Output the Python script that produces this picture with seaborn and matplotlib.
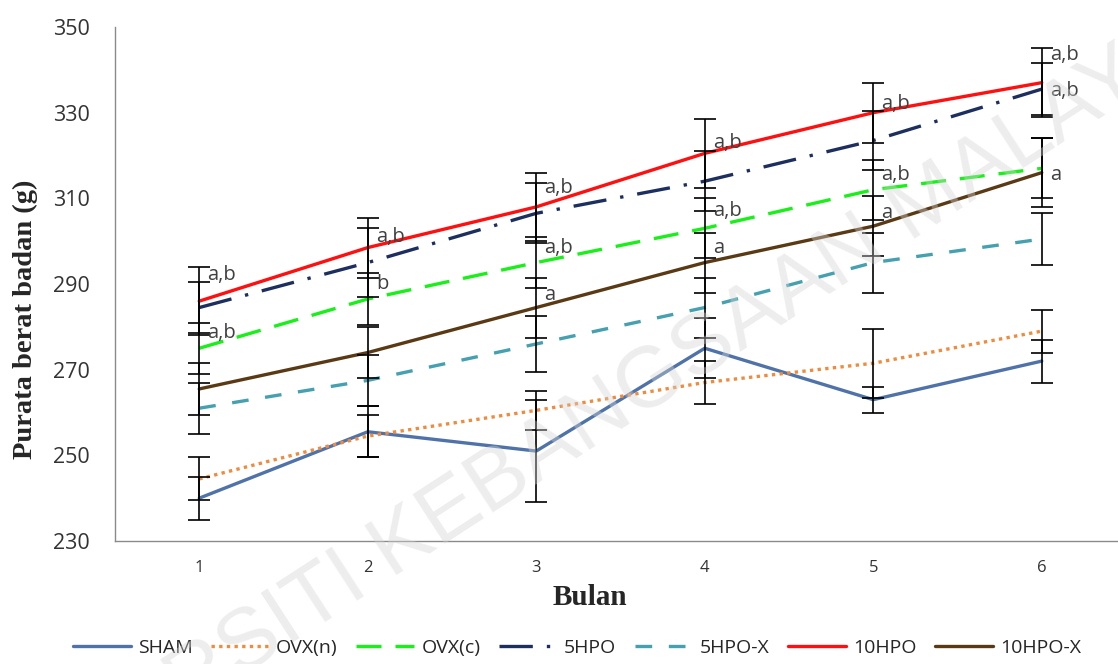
import numpy as np
import pandas as pd
import matplotlib
matplotlib.use("Agg")
import matplotlib.pyplot as plt
import seaborn as sns

# Months on the x axis
months = [1, 2, 3, 4, 5, 6]

# Mean body weight (g) per group
sham = [240, 255.5, 251, 275, 263, 272]
ovx_n = [244.5, 254.5, 260.5, 267, 271.5, 279]
ovx_c = [275, 286.5, 295, 303, 312, 317]
hpo5 = [284.5, 295, 306.5, 314, 323.5, 335.5]
hpo5_x = [261, 267.5, 276, 284.5, 295, 300.5]
hpo10 = [286, 298.5, 308, 320.5, 330, 337]
hpo10_x = [265.5, 274, 284.5, 295, 303.5, 316]

# Standard deviations per group
sham_sd = [5, 6, 12, 7, 3, 5]
ovx_n_sd = [5, 5, 4.5, 5, 8, 5]
ovx_c_sd = [6, 6, 6, 7, 7, 7]
hpo5_sd = [6, 8, 7, 7, 7, 6]
hpo5_x_sd = [6, 6, 6.5, 7, 7, 6]
hpo10_sd = [8, 7, 8, 8, 7, 8]
hpo10_x_sd = [6, 6, 7, 7, 7, 8]

groups = ["SHAM", "OVX(n)", "OVX(c)", "5HPO", "5HPO-X", "10HPO", "10HPO-X"]
means = [sham, ovx_n, ovx_c, hpo5, hpo5_x, hpo10, hpo10_x]
sds = [sham_sd, ovx_n_sd, ovx_c_sd, hpo5_sd, hpo5_x_sd, hpo10_sd, hpo10_x_sd]

# Significance letters: month, weight level, text
sig_month = [1, 1, 2, 2, 3, 3, 3, 4, 4, 4, 5, 5, 5, 6, 6, 6]
sig_level = [292, 278.5, 301, 290, 312.5, 298.5, 287.5, 323, 307, 298.5,
             332, 315.5, 306.5, 343.5, 335, 315.5]
sig_text = ["a,b", "a,b", "a,b", "b", "a,b", "a,b", "a", "a,b", "a,b", "a",
            "a,b", "a,b", "a", "a,b", "a,b", "a"]

colors = {
    "SHAM": "#4f73a8",
    "OVX(n)": "#f08a3c",
    "OVX(c)": "#19f019",
    "5HPO": "#1c2f5e",
    "5HPO-X": "#45a0b0",
    "10HPO": "#ff1010",
    "10HPO-X": "#5a3a14",
}
dash_styles = {
    "SHAM": "",
    "OVX(n)": (1, 1.3),
    "OVX(c)": (7.5, 4.2),
    "5HPO": (10, 4.2, 1, 4.2),
    "5HPO-X": (5, 5),
    "10HPO": "",
    "10HPO-X": "",
}

rows = []
for g, m in zip(groups, means):
    for mo, v in zip(months, m):
        rows.append({"Bulan": mo, "Berat": v, "Kumpulan": g})
df = pd.DataFrame(rows)

sns.set_theme(style="white")
plt.rcParams["font.family"] = ["Open Sans", "DejaVu Sans"]

fig = plt.figure(figsize=(11.18, 6.64), dpi=100)
ax = fig.add_axes([115 / 1118, 1 - 541 / 664, (1126 - 115) / 1118, (541 - 27) / 664])

sns.lineplot(data=df, x="Bulan", y="Berat", hue="Kumpulan", style="Kumpulan",
             hue_order=groups, style_order=groups, palette=colors,
             dashes=dash_styles, linewidth=2.4, ax=ax, legend=True)

for g, m, s in zip(groups, means, sds):
    ax.errorbar(months, m, yerr=s, fmt="none", ecolor="black",
                elinewidth=1.2, capsize=8, capthick=1.2, zorder=5)

for mo, lv, t in zip(sig_month, sig_level, sig_text):
    ax.annotate(t, (mo, lv), xytext=(6, 0), textcoords="offset points",
                ha="left", va="center", fontsize=14.5, color="#404040", zorder=6)

ax.set_xlim(0.5, 6.5)
ax.set_ylim(230, 350)
ax.set_yticks(range(230, 351, 20))
ax.set_xticks(months)
ax.set_xticks(np.arange(0.5, 6.6, 1), minor=True)
ax.tick_params(axis="x", which="major", length=0, labelsize=12, pad=14, colors="#333333")
ax.tick_params(axis="x", which="minor", length=5, color="#888888", direction="out")
ax.tick_params(axis="y", which="major", length=0, labelsize=15.5, pad=18, colors="#333333")
for side in ["top", "right"]:
    ax.spines[side].set_visible(False)
for side in ["left", "bottom"]:
    ax.spines[side].set_color("#8a8a8a")
    ax.spines[side].set_linewidth(1.0)

serif = ["Liberation Serif", "DejaVu Serif"]
ax.set_xlabel("Bulan", fontsize=21, fontweight="bold", family=serif)
ax.set_ylabel("Purata berat badan (g)", fontsize=20.5, fontweight="bold", family=serif)
ax.xaxis.set_label_coords((590 - 115) / 1011, -43 / 514)
ax.yaxis.set_label_coords(-77 / 1011, (541 - 319) / 514)

handles, labels = ax.get_legend_handles_labels()
ax.get_legend().remove()
fig.legend(handles, labels, loc="center", bbox_to_anchor=(0.516, 0.024), ncol=7,
           frameon=False, fontsize=14, handlelength=3.0, columnspacing=0.95,
           handletextpad=0.35)

# Repository watermark
fig.text(0.54, 0.375, "UNIVERSITI KEBANGSAAN MALAYSIA", fontsize=62,
         family=["Liberation Sans", "DejaVu Sans"], rotation=33,
         ha="center", va="center", color="#d4d4d4", alpha=0.4, zorder=20)

fig.savefig("out.png", dpi=100)
